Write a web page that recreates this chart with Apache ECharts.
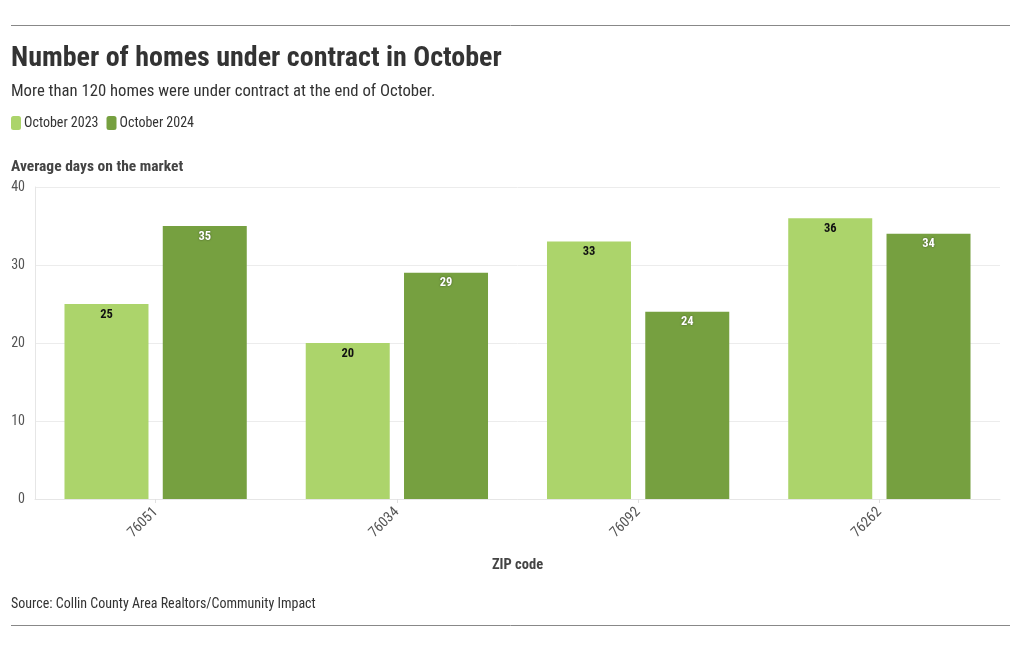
<!DOCTYPE html>
<html><head><meta charset="utf-8">
<script src="https://cdn.jsdelivr.net/npm/echarts@6/dist/echarts.min.js"></script>
<style>html,body{margin:0;padding:0;background:#fff}#c{width:1020px;height:650px}</style>
</head><body><div id="c"></div>
<script>
const categories = ['76051', '76034', '76092', '76262'];
const seriesNames = ['October 2023', 'October 2024'];
const oct2023 = [25, 20, 33, 36];
const oct2024 = [35, 29, 24, 34];
const yTicks = [0, 10, 20, 30, 40];

const FONT = "'Roboto Condensed','Liberation Sans Narrow','Roboto',sans-serif";
const chart = echarts.init(document.getElementById('c'));
chart.setOption({
  animation: false,
  textStyle: { fontFamily: FONT },
  title: [
    { text: 'Number of homes under contract in October', left: 6, top: 40,
      textStyle: { fontFamily: FONT, fontSize: 28, fontWeight: 'bold', color: '#333' } },
    { text: 'More than 120 homes were under contract at the end of October.', left: 6, top: 78,
      textStyle: { fontFamily: FONT, fontSize: 16.7, fontWeight: 'normal', color: '#333' } },
    { text: 'Source: Collin County Area Realtors/Community Impact', left: 6, top: 592,
      textStyle: { fontFamily: FONT, fontSize: 14, fontWeight: 'normal', color: '#333' } }
  ],
  legend: {
    left: 6, top: 111, itemWidth: 10, itemHeight: 14, itemGap: 8,
    icon: 'roundRect',
    textStyle: { fontFamily: FONT, fontSize: 14, color: '#333', padding: [0, 0, 0, -2] },
    data: seriesNames
  },
  graphic: [
    { type: 'line', shape: { x1: 11, y1: 25.5, x2: 1010, y2: 25.5 }, style: { stroke: '#888', lineWidth: 1 } },
    { type: 'line', shape: { x1: 11, y1: 625.5, x2: 1010, y2: 625.5 }, style: { stroke: '#888', lineWidth: 1 } }
  ],
  grid: { left: 35, right: 20, top: 187, bottom: 151, containLabel: false },
  xAxis: {
    type: 'category', data: categories,
    name: 'ZIP code', nameLocation: 'middle', nameGap: 59,
    nameTextStyle: { fontFamily: FONT, fontSize: 14.5, fontWeight: 'bold', color: '#444' },
    axisLine: { show: true, lineStyle: { color: '#e6e6e6' } },
    axisTick: { show: true, alignWithLabel: true, length: 4, lineStyle: { color: '#e0e0e0' } },
    axisLabel: { rotate: 45, color: '#555', fontSize: 14.5, margin: 11 }
  },
  yAxis: {
    type: 'value', min: 0, max: 40, interval: 10,
    name: 'Average days on the market', nameLocation: 'end', nameGap: 12,
    nameTextStyle: { fontFamily: FONT, fontSize: 15.5, fontWeight: 'bold', color: '#444', align: 'left', padding: [0, 0, 0, -24] },
    axisLine: { show: true, lineStyle: { color: '#e6e6e6' } },
    axisTick: { show: false },
    splitLine: { lineStyle: { color: '#ececec' } },
    axisLabel: { color: '#555', fontSize: 14, margin: 10 }
  },
  series: [
    { name: seriesNames[0], type: 'bar', data: oct2023, barWidth: 84, barGap: '17%',
      itemStyle: { color: '#acd46b' },
      label: { show: true, position: 'insideTop', distance: 4, color: '#111', fontWeight: 'bold', fontSize: 12.5 } },
    { name: seriesNames[1], type: 'bar', data: oct2024, barWidth: 84,
      itemStyle: { color: '#76a040' },
      label: { show: true, position: 'insideTop', distance: 4, color: '#fff', fontWeight: 'bold', fontSize: 12.5,
        textShadowColor: 'rgba(0,0,0,0.5)', textShadowBlur: 2 } }
  ]
});
</script></body></html>
